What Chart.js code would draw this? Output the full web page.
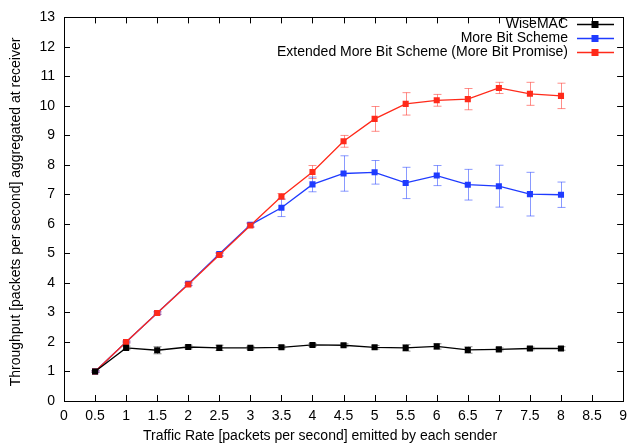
<!DOCTYPE html>
<html><head><meta charset="utf-8">
<script src="https://cdn.jsdelivr.net/npm/chart.js@4"></script>
<style>html,body{margin:0;padding:0;background:#fff}#wrap{width:634px;height:448px}</style>
</head><body><div id="wrap"><canvas id="c" width="634" height="448"></canvas></div>
<script>
const rates = [0.5,1,1.5,2,2.5,3,3.5,4,4.5,5,5.5,6,6.5,7,7.5,8];
const wisemac = [1.0,1.80,1.72,1.83,1.80,1.80,1.82,1.90,1.89,1.82,1.80,1.85,1.73,1.75,1.78,1.78];
const wisemacErr = [0.03,0.06,0.12,0.06,0.09,0.05,0.05,0.05,0.05,0.06,0.11,0.09,0.11,0.05,0.05,0.06];
const moreBit = [1.0,2.0,2.98,3.97,4.98,5.97,6.55,7.34,7.71,7.75,7.39,7.64,7.33,7.28,7.01,6.99];
const moreBitErr = [0.02,0.03,0.04,0.05,0.05,0.07,0.30,0.25,0.60,0.40,0.53,0.34,0.52,0.71,0.74,0.43];
const extended = [1.0,2.0,2.98,3.95,4.95,5.95,6.93,7.76,8.80,9.56,10.07,10.19,10.23,10.61,10.41,10.34];
const extendedErr = [0.02,0.03,0.04,0.04,0.05,0.06,0.10,0.22,0.20,0.42,0.38,0.20,0.36,0.19,0.39,0.43];
const seriesLabels = ['WiseMAC','More Bit Scheme','Extended More Bit Scheme (More Bit Promise)'];
const xTitle = 'Traffic Rate [packets per second] emitted by each sender';
const yTitle = 'Throughput [packets per second] aggregated at receiver';

const colors = ['#000000','#1f3bff','#ff2a1a'];
const errColors = ['rgba(0,0,0,0.45)','rgba(40,70,255,0.55)','rgba(255,50,40,0.55)'];
const FONT = '"Liberation Sans", Arial, sans-serif';

function pts(ys){return rates.map((x,i)=>({x:x,y:ys[i]}));}
const errs = [wisemacErr, moreBitErr, extendedErr];

const errorBars = {
  id:'errorBars',
  beforeDatasetsDraw(chart){
    const ctx=chart.ctx, xs=chart.scales.x, ys=chart.scales.y;
    ctx.save();
    [0,2,1].forEach(di=>{
      const ds=chart.data.datasets[di];
      ctx.strokeStyle=errColors[di]; ctx.lineWidth=1;
      ds.data.forEach((p,i)=>{
        const e=errs[di][i]; const px=Math.round(xs.getPixelForValue(p.x))+0.5;
        const y1=ys.getPixelForValue(p.y-e), y2=ys.getPixelForValue(p.y+e);
        ctx.beginPath();
        ctx.moveTo(px,y1);ctx.lineTo(px,y2);
        ctx.moveTo(px-4,y1);ctx.lineTo(px+4,y1);
        ctx.moveTo(px-4,y2);ctx.lineTo(px+4,y2);
        ctx.stroke();
      });
    });
    ctx.restore();
  }
};

const frame = {
  id:'frame',
  afterDraw(chart){
    const ctx=chart.ctx, a=chart.chartArea, xs=chart.scales.x, ys=chart.scales.y;
    ctx.save();
    ctx.strokeStyle='#000'; ctx.lineWidth=1;
    ctx.strokeRect(Math.round(a.left)+0.5,Math.round(a.top)+0.5,Math.round(a.right-a.left),Math.round(a.bottom-a.top));
    ctx.beginPath();
    xs.ticks.forEach(t=>{
      const px=Math.round(xs.getPixelForValue(t.value))+0.5;
      ctx.moveTo(px,a.bottom);ctx.lineTo(px,a.bottom-6);
      ctx.moveTo(px,a.top);ctx.lineTo(px,a.top+6);
    });
    ys.ticks.forEach(t=>{
      const py=Math.round(ys.getPixelForValue(t.value))+0.5;
      ctx.moveTo(a.left,py);ctx.lineTo(a.left+6,py);
      ctx.moveTo(a.right,py);ctx.lineTo(a.right-6,py);
    });
    ctx.stroke();
    // axis titles
    ctx.fillStyle='#000';
    ctx.font='14px '+FONT; ctx.textAlign='center'; ctx.textBaseline='middle';
    ctx.fillText(xTitle,320,436);
    ctx.save(); ctx.translate(16,212); ctx.rotate(-Math.PI/2); ctx.fillText(yTitle,0,0); ctx.restore();
    // legend
    ctx.font='14px '+FONT; ctx.textAlign='right'; ctx.textBaseline='middle';
    const ly=[24,38,52];
    seriesLabels.forEach((lab,i)=>{
      ctx.fillStyle='#000';
      ctx.fillText(lab,568,ly[i]);
      ctx.strokeStyle=colors[i]; ctx.lineWidth=1.3;
      ctx.beginPath();ctx.moveTo(577,ly[i]+0.5);ctx.lineTo(614,ly[i]+0.5);ctx.stroke();
      ctx.fillStyle=colors[i]; ctx.fillRect(591.5,ly[i]-3,7,7);
    });
    ctx.restore();
  }
};

const datasets = [wisemac, moreBit, extended].map((d,i)=>({
  label:seriesLabels[i], data:pts(d), borderColor:colors[i], backgroundColor:colors[i],
  borderWidth:1.3, pointStyle:'rect', pointRadius:4.3, pointBorderWidth:0, tension:0,
  order: i===0?0:(i===2?1:2)
}));

new Chart(document.getElementById('c'),{
  type:'line',
  data:{datasets:datasets},
  options:{
    responsive:false, animation:false, devicePixelRatio:1,
    layout:{padding:{top:11,right:4,left:0,bottom:0}},
    plugins:{legend:{display:false},tooltip:{enabled:false}},
    scales:{
      x:{type:'linear',min:0,max:9,
        grid:{display:false,drawTicks:false},border:{display:false},
        ticks:{stepSize:0.5,autoSkip:false,maxRotation:0,padding:7,color:'#000',font:{family:FONT,size:14},callback:v=>String(v)},
        afterFit(s){s.height=47;}
      },
      y:{min:0,max:13,
        grid:{display:false,drawTicks:false},border:{display:false},
        ticks:{stepSize:1,padding:9,color:'#000',font:{family:FONT,size:14}},
        afterFit(s){s.width=64;}
      }
    }
  },
  plugins:[errorBars,frame]
});
</script></body></html>
